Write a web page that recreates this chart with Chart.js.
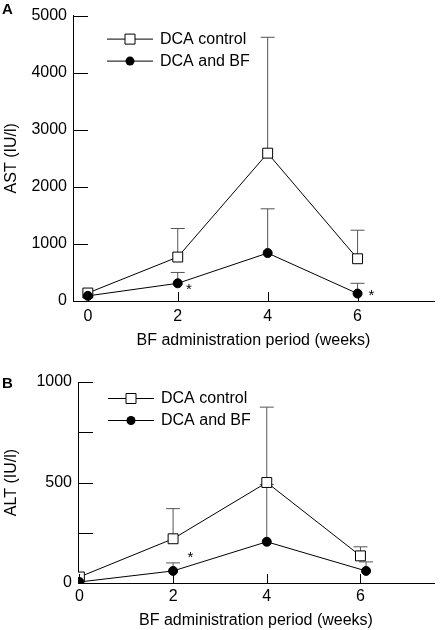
<!DOCTYPE html>
<html>
<head>
<meta charset="utf-8">
<script src="https://cdn.jsdelivr.net/npm/chart.js@4.4.0/dist/chart.umd.min.js"></script>
<style>
body{margin:0;background:#fff;width:442px;height:630px;overflow:hidden;position:relative}
canvas{position:absolute;left:0}
#chartA{top:0}
#chartB{top:350px}
</style>
</head>
<body>
<canvas id="chartA" width="442" height="350"></canvas>
<canvas id="chartB" width="442" height="280"></canvas>
<script>
// weeks of BF administration
const weeks = [0, 2, 4, 6];
const altWeeksBF = [0, 2, 4, 6.12];
// AST (IU/l), mean and SD
const astControl = [140, 770, 2590, 740];
const astControlSd = [0, 500, 2030, 500];
const astBF = [90, 310, 840, 130];
const astBFSd = [0, 190, 775, 180];
// ALT (IU/l), mean and SD
const altControl = [30, 220, 500, 135];
const altControlSd = [0, 150, 375, 45];
const altBF = [5, 60, 205, 60];
const altBFSd = [0, 40, 285, 45];
// axes
const xTicks = [0, 2, 4, 6];
const astTicks = [0, 1000, 2000, 3000, 4000, 5000];
const altTicks = [0, 250, 500, 750, 1000];
const altTickLabels = ['0', '', '500', '', '1000'];
const seriesNames = ['DCA control', 'DCA and BF'];
// significance marks [week, value]
const astStars = [[2.25, 240], [6.31, 140]];
const altStars = [[2.37, 139]];

const FONT = 'Liberation Sans, Arial, Helvetica, sans-serif';
const font16 = {family: FONT, size: 16};

function pts(xs, ys) { return xs.map((x, i) => ({x: x, y: ys[i]})); }

const extras = {
  id: 'extras',
  beforeDatasetsDraw(chart, args, o) {
    const ctx = chart.ctx, ys = chart.scales.y;
    ctx.save();
    ctx.strokeStyle = '#555';
    ctx.lineWidth = 1;
    chart.data.datasets.forEach((ds, i) => {
      const meta = chart.getDatasetMeta(i);
      ds.data.forEach((p, j) => {
        if (!ds.sd[j]) return;
        const el = meta.data[j];
        const top = ys.getPixelForValue(p.y + ds.sd[j]);
        ctx.beginPath();
        ctx.moveTo(el.x, el.y);
        ctx.lineTo(el.x, top);
        ctx.moveTo(el.x - 7, top);
        ctx.lineTo(el.x + 7, top);
        ctx.stroke();
      });
    });
    ctx.restore();
  },
  afterDraw(chart, args, o) {
    const ctx = chart.ctx, a = chart.chartArea;
    const xs = chart.scales.x, ys = chart.scales.y;
    ctx.save();
    ctx.strokeStyle = '#000';
    ctx.lineWidth = 1;
    // inward tick marks
    ctx.beginPath();
    ys.ticks.forEach(t => {
      const py = Math.round(ys.getPixelForValue(t.value)) + 0.5;
      ctx.moveTo(a.left, py);
      ctx.lineTo(a.left + 15, py);
    });
    xs.ticks.forEach(t => {
      const px = Math.round(xs.getPixelForValue(t.value)) + 0.5;
      ctx.moveTo(px, a.bottom);
      ctx.lineTo(px, a.bottom - 9);
    });
    ctx.stroke();
    // legend
    ctx.fillStyle = '#000';
    ctx.font = '16px ' + FONT;
    ctx.textBaseline = 'middle';
    ctx.textAlign = 'left';
    seriesNames.forEach((name, i) => {
      const y = a.top + o.legendTop + i * 22 + 0.5;
      const x0 = a.left + o.legendLeft;
      ctx.beginPath();
      ctx.moveTo(x0, y);
      ctx.lineTo(x0 + 46, y);
      ctx.stroke();
      const cx = x0 + 23;
      ctx.beginPath();
      if (i === 0) {
        ctx.fillStyle = '#fff';
        ctx.rect(cx - 5, y - 5, 10, 10);
        ctx.fill();
        ctx.stroke();
      } else {
        ctx.fillStyle = '#000';
        ctx.arc(cx, y, 4.5, 0, Math.PI * 2);
        ctx.fill();
      }
      ctx.fillStyle = '#000';
      ctx.fillText(name, x0 + 53, y);
    });
    // stars
    ctx.textAlign = 'center';
    ctx.font = '15px ' + FONT;
    o.stars.forEach(s => {
      ctx.fillText('*', xs.getPixelForValue(s[0]), ys.getPixelForValue(s[1]) + 3);
    });
    // panel letter
    ctx.font = 'bold 15px ' + FONT;
    ctx.textAlign = 'left';
    ctx.textBaseline = 'top';
    ctx.fillText(o.letter, o.letterX, o.letterY);
    ctx.restore();
  }
};

function makeChart(id, cfg) {
  const datasets = [
    {label: seriesNames[0], data: pts(cfg.ctrlX, cfg.ctrl), sd: cfg.ctrlSd, order: 1,
     pointStyle: 'rect', pointRadius: 7, pointBackgroundColor: '#fff'},
    {label: seriesNames[1], data: pts(cfg.bfX, cfg.bf), sd: cfg.bfSd, order: 0,
     pointStyle: 'circle', pointRadius: 4.5, pointBackgroundColor: '#000'}
  ];
  datasets.forEach(d => {
    d.showLine = true;
    d.borderColor = '#000';
    d.borderWidth = 1;
    d.pointBorderColor = '#000';
    d.pointBorderWidth = 1;
  });
  return new Chart(document.getElementById(id), {
    type: 'scatter',
    data: {datasets: datasets},
    plugins: [extras],
    options: {
      responsive: false,
      animation: false,
      devicePixelRatio: 1,
      layout: {padding: {top: cfg.padTop, right: cfg.padRight, left: 0, bottom: 0}},
      plugins: {
        legend: {display: false},
        tooltip: {enabled: false},
        extras: {letter: cfg.letter, letterX: cfg.letterX, letterY: cfg.letterY,
                 legendLeft: cfg.legendLeft, legendTop: cfg.legendTop, stars: cfg.stars}
      },
      scales: {
        x: {
          type: 'linear', min: cfg.xMin, max: cfg.xMax,
          afterFit: s => { s.height = cfg.xHeight; },
          afterBuildTicks: s => { s.ticks = xTicks.map(v => ({value: v})); },
          grid: {display: false, drawTicks: false},
          border: {color: '#000', width: 1},
          ticks: {color: '#000', font: font16, padding: cfg.xTickPad, maxRotation: 0},
          title: {display: true, text: 'BF administration period (weeks)', color: '#000',
                  font: font16, padding: {top: 0, bottom: 0}}
        },
        y: {
          type: 'linear', min: cfg.yTicks[0], max: cfg.yTicks[cfg.yTicks.length - 1],
          afterFit: s => { s.width = cfg.yWidth; },
          afterBuildTicks: s => { s.ticks = cfg.yTicks.map(v => ({value: v})); },
          grid: {display: false, drawTicks: false},
          border: {color: '#000', width: 1},
          ticks: {color: '#000', font: font16, padding: 6,
                  callback: (v, i) => cfg.yLabels[i]},
          title: {display: true, text: cfg.yTitle, color: '#000',
                  font: font16, padding: {top: 2, bottom: 0}}
        }
      }
    }
  });
}

makeChart('chartA', {
  ctrlX: weeks, ctrl: astControl, ctrlSd: astControlSd,
  bfX: weeks, bf: astBF, bfSd: astBFSd,
  xMin: -0.33, xMax: 7.7, yTicks: astTicks, yLabels: astTicks.map(String),
  yTitle: 'AST (IU/l)', padTop: 10, padRight: 5, xHeight: 49, yWidth: 73, xTickPad: 6,
  letter: 'A', letterX: 2, letterY: 2, legendLeft: 34, legendTop: 23, stars: astStars
});
makeChart('chartB', {
  ctrlX: weeks, ctrl: altControl, ctrlSd: altControlSd,
  bfX: altWeeksBF, bf: altBF, bfSd: altBFSd,
  xMin: -0.03, xMax: 7.57, yTicks: altTicks, yLabels: altTickLabels,
  yTitle: 'ALT (IU/l)', padTop: 32, padRight: 0, xHeight: 47, yWidth: 78, xTickPad: 4,
  letter: 'B', letterX: 2, letterY: 26, legendLeft: 30, legendTop: 16, stars: altStars
});
</script>
</body>
</html>
